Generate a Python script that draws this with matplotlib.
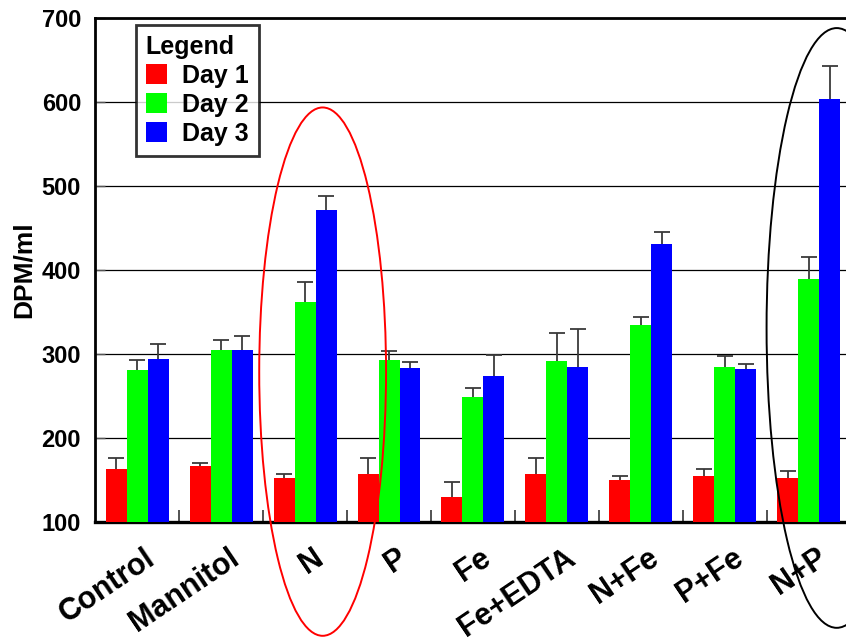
import numpy as np
import matplotlib.pyplot as plt
import matplotlib.transforms as mtransforms
from matplotlib.patches import Ellipse

plt.rcParams['font.family'] = ['Liberation Sans', 'DejaVu Sans']
plt.rcParams['font.weight'] = 'bold'
plt.rcParams['axes.labelweight'] = 'bold'

# --- data: DPM/ml per treatment, mean and upper error ---
treatments = ['Control', 'Mannitol', 'N', 'P', 'Fe', 'Fe+EDTA', 'N+Fe', 'P+Fe', 'N+P']
day1 = [163, 167, 152, 157, 130, 157, 150, 155, 152]
day2 = [281, 305, 362, 293, 249, 292, 335, 284, 389]
day3 = [294, 305, 471, 283, 274, 284, 431, 282, 604]
err1 = [13, 3, 5, 19, 18, 19, 5, 8, 9]
err2 = [12, 12, 24, 11, 10, 33, 9, 14, 26]
err3 = [18, 16, 17, 7, 25, 46, 14, 6, 39]
days = ['Day 1', 'Day 2', 'Day 3']
colors = ['#ff0000', '#00ff00', '#0000ff']

fig = plt.figure(figsize=(8.46, 6.43), dpi=100)
ax = fig.add_axes([0.1123, 0.1882, 0.8936, 0.7838])

x = np.arange(len(treatments)) + 0.5
w = 0.25
for k, (vals, errs) in enumerate(zip([day1, day2, day3], [err1, err2, err3])):
    pos = x + (k - 1) * w
    ax.bar(pos, vals, w, color=colors[k], label=days[k], zorder=3)
    eb = ax.errorbar(pos, vals, yerr=[np.zeros(len(errs)), errs], fmt='none',
                     ecolor='#3a3a3a', elinewidth=1.3, capsize=6, capthick=1.3, zorder=4)
    # only the upper cap is drawn
    eb[1][0].set_visible(False)

ax.set_xlim(0, len(treatments))
ax.set_ylim(100, 700)
ax.set_yticks(range(100, 701, 100))
ax.yaxis.grid(True, color='black', linewidth=0.9, zorder=1)
ax.set_axisbelow(True)
ax.tick_params(axis='y', direction='in', length=7, width=1, color='#555555',
               labelsize=17, pad=10)

# group separators on the x axis
ax.set_xticks(np.arange(1, len(treatments)), minor=True)
ax.tick_params(axis='x', which='minor', direction='in', length=9, width=1.3,
               color='#444444')
ax.set_xticks(x, treatments, rotation=34, ha='right', rotation_mode='anchor')
ax.tick_params(axis='x', which='major', length=0, labelsize=22, pad=15)
offset = mtransforms.ScaledTranslation(7 / 100, 0, fig.dpi_scale_trans)
for lab in ax.get_xticklabels():
    lab.set_transform(lab.get_transform() + offset)

ax.spines['left'].set_linewidth(2)
ax.spines['bottom'].set_linewidth(2.4)
ax.spines['top'].set_linewidth(2)
ax.spines['right'].set_visible(False)

ax.set_ylabel('DPM/ml', fontsize=19, labelpad=4)

leg = ax.legend(loc='upper left', bbox_to_anchor=(0.054, 0.986), borderaxespad=0,
                title='Legend', title_fontproperties={'size': 18, 'weight': 'bold'},
                fontsize=18, frameon=True, fancybox=False, edgecolor='black',
                handlelength=0.85, handleheight=0.85, handletextpad=0.6,
                labelspacing=0.2, borderpad=0.4, alignment='left')
leg.get_frame().set_linewidth(2)
leg.set_zorder(6)

# highlight rings
ax.add_patch(Ellipse((2.71, 279), 1.51, 629, fill=False, edgecolor='red',
                     linewidth=1.4, clip_on=False, zorder=5))
ax.add_patch(Ellipse((8.83, 331), 1.67, 714, fill=False, edgecolor='black',
                     linewidth=1.4, clip_on=False, zorder=5))

fig.savefig('out.png', dpi=100)
